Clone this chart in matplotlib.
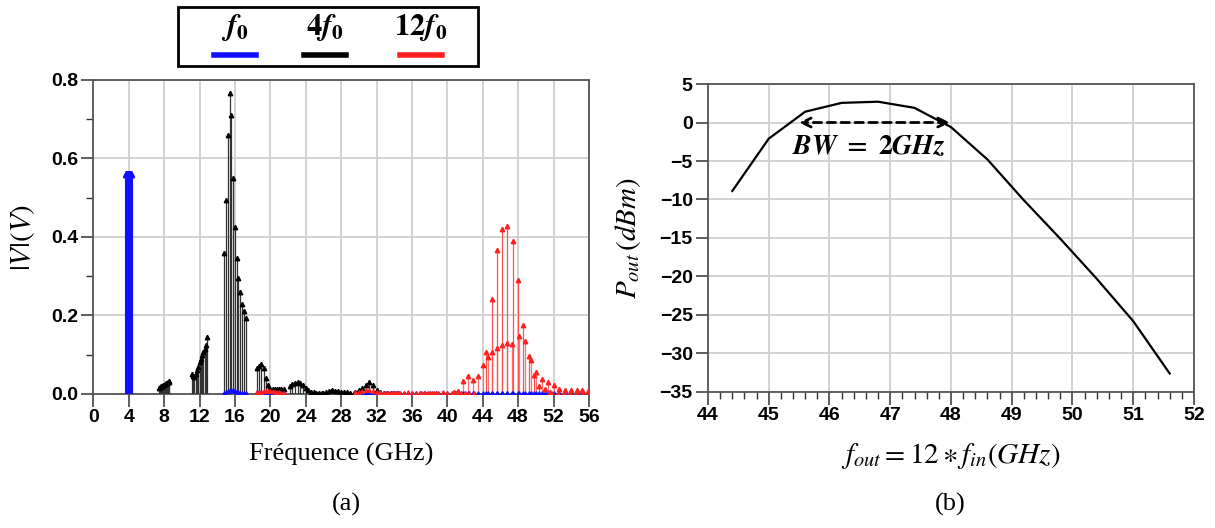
import matplotlib
matplotlib.use("Agg")
import matplotlib.pyplot as plt
from matplotlib.patches import Rectangle
from matplotlib.lines import Line2D
from matplotlib.ticker import MultipleLocator, FormatStrFormatter

plt.rcParams['mathtext.fontset'] = 'stix'
plt.rcParams['font.family'] = ['Liberation Sans', 'DejaVu Sans']

# input frequency sweep (GHz)
fin = [3.70, 3.75, 3.80, 3.85, 3.90, 3.95, 4.00, 4.05, 4.10, 4.15, 4.20, 4.25, 4.30]

# spectrum amplitudes |V| per harmonic order, one value per fin
blue_h1 = [0.56, 0.56, 0.56, 0.56, 0.56, 0.56, 0.56, 0.56, 0.56, 0.56, 0.56, 0.56, 0.56]
blue_h4 = [0.003, 0.005, 0.007, 0.009, 0.010, 0.009, 0.007, 0.005, 0.004, 0.003, 0.003, 0.002, 0.002]
blue_h5 = [0.006, 0.006, 0.005, 0.005, 0.004, 0.004, 0.003, 0.003, 0.003, 0.002, 0.002, 0.002, 0.002]
blue_low = [0.002, 0.002, 0.003, 0.002, 0.002, 0.003, 0.002, 0.002, 0.003, 0.002, 0.002, 0.002, 0.002]

black_h2 = [0.015, 0.017, 0.018, 0.020, 0.021, 0.022, 0.024, 0.025, 0.027, 0.028, 0.030, 0.031, 0.032]
black_h3 = [0.050, 0.047, 0.044, 0.050, 0.062, 0.070, 0.082, 0.090, 0.100, 0.107, 0.115, 0.125, 0.145]
black_h4 = [0.360, 0.495, 0.660, 0.766, 0.710, 0.550, 0.426, 0.347, 0.295, 0.260, 0.230, 0.211, 0.194]
black_h5 = [0.065, 0.072, 0.077, 0.065, 0.040, 0.023, 0.012, 0.012, 0.012, 0.012, 0.012, 0.012, 0.012]
black_h6 = [0.020, 0.025, 0.029, 0.030, 0.027, 0.022, 0.015, 0.010, 0.006, 0.004, 0.002, 0.002, 0.002]
black_h7 = [0.003, 0.006, 0.008, 0.009, 0.008, 0.007, 0.006, 0.005, 0.004, 0.003, 0.003, 0.002, 0.002]
black_h8 = [0.006, 0.010, 0.014, 0.023, 0.031, 0.023, 0.010, 0.004, 0.003, 0.002, 0.002, 0.002, 0.002]

red_h5 = [0.004, 0.005, 0.006, 0.007, 0.008, 0.008, 0.008, 0.007, 0.006, 0.005, 0.004, 0.003, 0.003]
red_h8 = [0.004, 0.006, 0.008, 0.010, 0.009, 0.007, 0.005, 0.004, 0.003, 0.003, 0.003, 0.002, 0.002]
red_low = [0.003, 0.003, 0.003, 0.003, 0.003, 0.004, 0.003, 0.003, 0.003, 0.003, 0.003, 0.003, 0.003]
red_h11 = [0.005, 0.008, 0.034, 0.047, 0.036, 0.045, 0.074, 0.094, 0.107, 0.117, 0.126, 0.130, 0.128]
red_h12 = [0.107, 0.242, 0.367, 0.420, 0.428, 0.389, 0.291, 0.176, 0.096, 0.048, 0.021, 0.012, 0.005]
red_h13 = [0.147, 0.136, 0.087, 0.057, 0.038, 0.031, 0.024, 0.012, 0.010, 0.010, 0.010, 0.010, 0.008]

# output power at 12*fin (dBm)
pout = [-8.9, -2.1, 1.4, 2.55, 2.7, 1.9, -0.6, -4.8, -10.1, -15.1, -20.3, -25.8, -32.6]

blue = '#1010ff'
red = '#ff2020'
grid_c = '#cfcfcf'
spine_c = '#555555'
tick_font = dict(family='Liberation Sans', weight='bold', size=14)


def stems(ax, order, amps, color, lw=0.9, ms=3.2, lcolor=None):
    fx = [order * f for f in fin]
    ax.vlines(fx, 0, amps, colors=lcolor or color, lw=lw, zorder=3)
    ax.plot(fx, amps, '^', color=color, ms=ms, mec=color, zorder=4)


def style(ax):
    for s in ax.spines.values():
        s.set_color(spine_c)
        s.set_linewidth(1.3)
    ax.grid(True, which='major', color=grid_c, lw=1.3, zorder=0)
    ax.set_axisbelow(True)
    ax.tick_params(which='major', direction='out', length=9, width=1.1, color='#333333', pad=2)
    ax.tick_params(which='minor', direction='out', length=5, width=1.0, color='#333333')
    for lab in ax.get_xticklabels() + ax.get_yticklabels():
        lab.set_fontproperties(tick_font)


fig = plt.figure(figsize=(12.15, 5.28), dpi=100)

# (a) spectrum
ax1 = fig.add_axes([0.0768, 0.2538, 0.4079, 0.5947])
for k, a in [(2, black_h2), (3, black_h3), (4, black_h4), (5, black_h5),
             (6, black_h6), (7, black_h7), (8, black_h8)]:
    stems(ax1, k, a, 'black', lcolor='#333333')
stems(ax1, 1, blue_h1, blue, lw=2.2, ms=4)
stems(ax1, 4, blue_h4, blue, ms=2.5)
stems(ax1, 5, blue_h5, blue, ms=2.5)
for k in [8, 9, 10, 11, 12, 13]:
    stems(ax1, k, blue_low, blue, ms=2.5)
stems(ax1, 5, red_h5, red, ms=2.5)
stems(ax1, 8, red_h8, red, ms=2.5)
for k in [9, 10, 14]:
    stems(ax1, k, red_low, red, ms=2.5)
stems(ax1, 11, red_h11, red, lcolor='#ff7070')
stems(ax1, 12, red_h12, red, lcolor='#ff5050')
stems(ax1, 13, red_h13, red, lcolor='#ff7070')

ax1.set_xlim(0, 56)
ax1.set_ylim(0, 0.8)
ax1.xaxis.set_major_locator(MultipleLocator(4))
ax1.yaxis.set_major_locator(MultipleLocator(0.2))
ax1.yaxis.set_minor_locator(MultipleLocator(0.1))
ax1.yaxis.set_major_formatter(FormatStrFormatter('%.1f'))
style(ax1)
ax1.set_xlabel('Fréquence (GHz)', family='Liberation Serif', fontsize=19, labelpad=12)
ax1.set_ylabel(r'$|V|(V)$', fontsize=21, labelpad=10)

# (b) output power
ax2 = fig.add_axes([0.5827, 0.2576, 0.4000, 0.5833])
fout = [12 * f for f in fin]
ax2.plot(fout, pout, color='black', lw=1.6, zorder=3)
ax2.annotate('', xy=(45.5, 0), xytext=(47.98, 0),
             arrowprops=dict(arrowstyle='<->', ls=(0, (3, 2)), lw=2, color='black',
                             mutation_scale=16, shrinkA=0, shrinkB=0), zorder=4)
ax2.text(46.65, -3.2, r'$\mathbfit{BW}\ \mathbf{=}\ \mathbf{2}\mathbfit{GHz}$',
         fontsize=20, ha='center', va='center')
ax2.set_xlim(44, 52)
ax2.set_ylim(-35, 5)
ax2.xaxis.set_major_locator(MultipleLocator(1))
ax2.xaxis.set_minor_locator(MultipleLocator(0.2))
ax2.yaxis.set_major_locator(MultipleLocator(5))
style(ax2)
ax2.set_xlabel(r'$f_{out}=12\ast f_{in}(GHz)$', fontsize=21, labelpad=12)
ax2.set_ylabel(r'$P_{out}\,(dBm)$', fontsize=21, labelpad=12)

# panel captions
fig.text(0.285, 0.045, '(a)', family='Liberation Serif', fontsize=19, ha='center', va='center')
fig.text(0.7825, 0.045, '(b)', family='Liberation Serif', fontsize=19, ha='center', va='center')

# legend box above (a)
fig.add_artist(Rectangle((0.1465, 0.875), 0.2469, 0.1117, transform=fig.transFigure,
                         fill=False, lw=2, ec='black'))
leg = [(r'$\mathbfit{f}_\mathbf{0}$', blue, 0.1934),
       (r'$\mathbf{4}\mathbfit{f}_\mathbf{0}$', 'black', 0.2675),
       (r'$\mathbf{12}\mathbfit{f}_\mathbf{0}$', red, 0.3465)]
for txt, c, xc in leg:
    fig.text(xc, 0.948, txt, fontsize=22, ha='center', va='center')
    fig.add_artist(Line2D([xc - 0.017, xc + 0.017], [0.896, 0.896],
                          transform=fig.transFigure, color=c, lw=4))

fig.savefig('out.png', dpi=100)
